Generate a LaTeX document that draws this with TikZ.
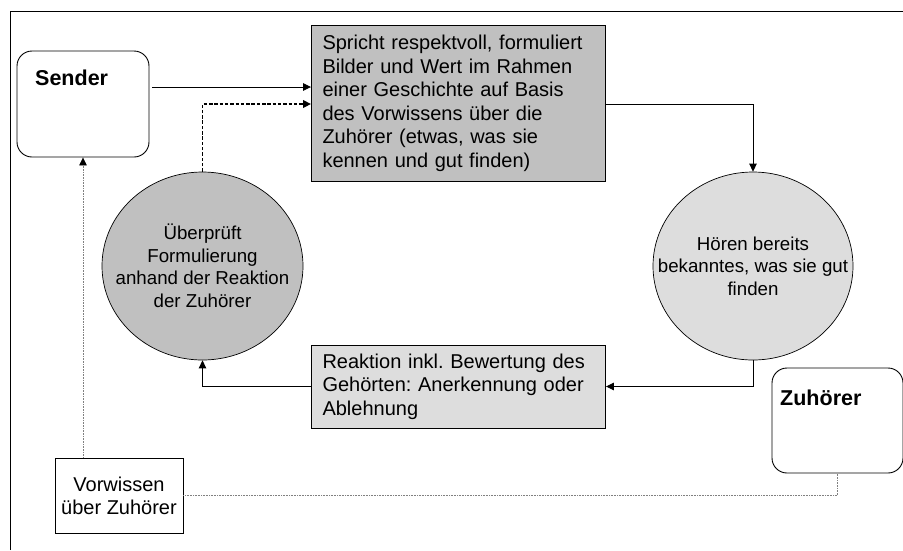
\documentclass[tikz,border=0pt]{standalone}
\usepackage{fontspec}
\setmainfont{Liberation Sans}
\frenchspacing
\usetikzlibrary{arrows.meta,positioning,shapes.geometric}
\definecolor{silvergray}{HTML}{C0C0C0}
\definecolor{palegray}{HTML}{DDDDDD}
\definecolor{linegray}{HTML}{808080}

\begin{document}
\begin{tikzpicture}[x=1pt,y=-1pt,
  party/.style={draw,rounded corners=15pt,inner sep=0pt,line width=0.9pt},
  partyname/.style={anchor=base west,inner sep=0pt,font=\fontsize{21.5}{24}\selectfont\bfseries},
  msg/.style={draw,line width=0.9pt,align=left,text width=272pt,inner xsep=11pt,inner ysep=0pt,
    font=\fontsize{20}{23.5}\selectfont},
  act/.style={draw,ellipse,line width=0.7pt,inner sep=0pt,minimum width=201pt,minimum height=188pt},
  acttext/.style={align=center,inner sep=0pt,font=\fontsize{18.7}{22.5}\selectfont},
  flow/.style={-{Triangle[length=8pt,width=7.5pt]},line width=0.9pt},
  check/.style={flow,line width=1.8pt,dash pattern=on 3.5pt off 1.8pt},
  know/.style={linegray,line width=0.7pt,dash pattern=on 0.8pt off 0.8pt}
]
\useasboundingbox (0,0) rectangle (903,550);
\draw[line width=0.9pt] (10,550) |- (903,11);

\node[party,minimum width=132pt,minimum height=106pt] (sender) at (83,104) {};
\node[partyname] (sendername) at (35,85) {Sender};
\node[party,minimum width=131pt,minimum height=105pt] (zuhoerer) at (837.5,420.5) {};
\node[partyname] (zuhoerername) at (780,405) {Zuhörer};

\node[msg,fill=silvergray,minimum height=155.5pt] (spricht) at (458.5,103.5)
  {Spricht respektvoll, formuliert\\Bilder und Wert im Rahmen\\einer Geschichte auf Basis\\des Vorwissens über die\\Zuhörer (etwas, was sie\\kennen und gut finden)};
\node[act,fill=silvergray] (pruefen) at (202.5,266) {};
\node[acttext] (pruefentext) at (pruefen.center)
  {Überprüft\\Formulierung\\anhand der Reaktion\\der Zuhörer};
\node[act,fill=palegray,minimum width=200pt] (hoeren) at (753,266) {};
\node[acttext] (hoerentext) at (hoeren.center)
  {Hören bereits\\bekanntes, was sie gut\\finden};
\node[msg,fill=palegray,minimum height=83pt] (reaktion) at (458.5,386.5)
  {Reaktion inkl. Bewertung des\\Gehörten: Anerkennung oder\\Ablehnung};
\node[draw,line width=0.9pt,minimum width=128pt,minimum height=75pt,align=center,inner sep=0pt,
  font=\fontsize{20}{23}\selectfont] (vorwissen) at (119,495.5) {Vorwissen\\über Zuhörer};

\coordinate (lineA) at (0,87);
\coordinate (lineB) at (0,104);
\draw[flow,shorten <=3pt] (sender.east |- lineA) -- (spricht.west |- lineA);
\draw[check] (pruefen.north) |- (spricht.west |- lineB);
\draw[flow] (spricht.east |- lineB) -| (hoeren.north);
\draw[flow] (hoeren.south) |- (reaktion.east);
\draw[flow] (reaktion.west) -| (pruefen.south);
\draw[know,-{Triangle[length=8pt,width=7.5pt,color=black]}] (vorwissen.north -| sender.south) -- (sender.south);
\draw[know] (vorwissen.east) -| (zuhoerer.south);
\end{tikzpicture}
\end{document}
